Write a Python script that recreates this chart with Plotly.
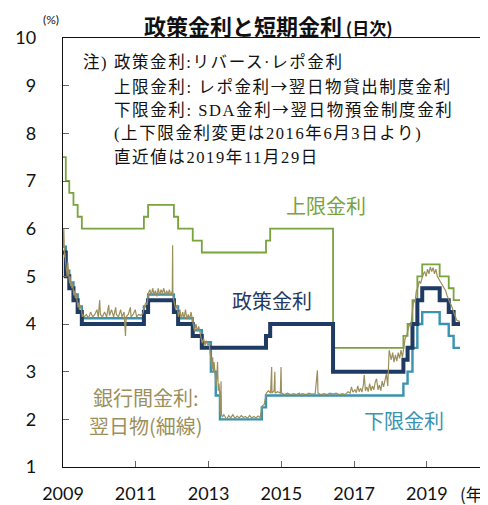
import plotly.graph_objects as go

# ---------------- data ----------------
# Policy rate (reverse repo rate), step changes
policy_dates = ["2009-01-01", "2009-01-29", "2009-03-05", "2009-04-16", "2009-05-28", "2009-07-09",
                "2011-03-24", "2011-05-05", "2012-01-19", "2012-03-01", "2012-07-26", "2012-10-25",
                "2014-07-31", "2014-09-11", "2016-06-03", "2018-05-10", "2018-06-21", "2018-08-09",
                "2018-09-27", "2018-11-15", "2019-05-09", "2019-08-08", "2019-09-26", "2019-11-29"]
policy_vals = [5.5, 5.0, 4.75, 4.5, 4.25, 4.0,
               4.25, 4.5, 4.25, 4.0, 3.75, 3.5,
               3.75, 4.0, 3.0, 3.25, 3.5, 4.0,
               4.5, 4.75, 4.5, 4.25, 4.0, 4.0]

# Upper rate (repo rate -> overnight lending facility)
upper_dates = policy_dates
upper_vals = [7.5, 7.0, 6.75, 6.5, 6.25, 6.0,
              6.25, 6.5, 6.25, 6.0, 5.75, 5.5,
              5.75, 6.0, 3.5, 3.75, 4.0, 4.5,
              5.0, 5.25, 5.0, 4.75, 4.5, 4.5]

# Lower rate (SDA rate -> overnight deposit facility)
lower_dates = ["2009-01-01", "2009-01-29", "2009-03-05", "2009-04-16", "2009-05-28", "2009-07-09",
               "2011-03-24", "2011-05-05", "2012-01-19", "2012-03-01", "2012-07-26", "2012-10-25",
               "2013-01-24", "2013-03-14", "2013-04-25", "2014-06-19", "2014-07-31",
               "2018-05-10", "2018-06-21", "2018-08-09", "2018-09-27", "2018-11-15",
               "2019-05-09", "2019-08-08", "2019-09-26", "2019-11-29"]
lower_vals = [5.62, 5.12, 4.87, 4.62, 4.37, 4.12,
              4.37, 4.62, 4.37, 4.12, 3.87, 3.62,
              3.0, 2.5, 2.0, 2.25, 2.5,
              2.75, 3.0, 3.5, 4.0, 4.25,
              4.0, 3.75, 3.5, 3.5]

# Interbank overnight rate (thin line)
interbank_dates = [
    "2009-01-02", "2009-01-06", "2009-01-09", "2009-01-13", "2009-01-16", "2009-01-21", "2009-01-27",
    "2009-02-02", "2009-02-06", "2009-02-12", "2009-02-18", "2009-02-24", "2009-03-02", "2009-03-09",
    "2009-03-13", "2009-03-19", "2009-03-26", "2009-04-01", "2009-04-08", "2009-04-14", "2009-04-20",
    "2009-04-27", "2009-05-04", "2009-05-11", "2009-05-18", "2009-05-25", "2009-06-01", "2009-06-08",
    "2009-06-15", "2009-06-22", "2009-06-29", "2009-07-06", "2009-07-13", "2009-07-20",
    "2009-08-03", "2009-08-24", "2009-09-14", "2009-10-05", "2009-10-26", "2009-11-16", "2009-12-07",
    "2009-12-21", "2010-01-04", "2010-01-11", "2010-02-01", "2010-02-22", "2010-03-15", "2010-04-05",
    "2010-04-12", "2010-05-03", "2010-05-24", "2010-06-14", "2010-06-21", "2010-07-12", "2010-08-02",
    "2010-08-16", "2010-09-06", "2010-09-20", "2010-09-27", "2010-10-18", "2010-11-08", "2010-11-15",
    "2010-12-06", "2010-12-27", "2011-01-10", "2011-01-31", "2011-02-21", "2011-03-14",
    "2011-03-28", "2011-04-11", "2011-04-25", "2011-05-09", "2011-05-23", "2011-06-06", "2011-06-20",
    "2011-07-04", "2011-07-18", "2011-08-01", "2011-08-15", "2011-08-29", "2011-09-12", "2011-09-26",
    "2011-10-10", "2011-10-24", "2011-11-07", "2011-11-21", "2011-12-05", "2011-12-19", "2012-01-03",
    "2012-01-06", "2012-01-09", "2012-01-23", "2012-02-06", "2012-02-20", "2012-03-05", "2012-03-19",
    "2012-04-02", "2012-04-16", "2012-04-30", "2012-05-14", "2012-05-28", "2012-06-11", "2012-06-25",
    "2012-07-09", "2012-07-30", "2012-08-13", "2012-08-27", "2012-09-10", "2012-09-24", "2012-10-08",
    "2012-10-29", "2012-11-12", "2012-11-26", "2012-12-10", "2012-12-24", "2013-01-07", "2013-01-28",
    "2013-02-04", "2013-02-11", "2013-02-18", "2013-02-25", "2013-03-04", "2013-03-18", "2013-03-25",
    "2013-04-01", "2013-04-08", "2013-04-15", "2013-04-22", "2013-04-29", "2013-05-06", "2013-05-10",
    "2013-05-20", "2013-06-03", "2013-06-17", "2013-07-01", "2013-07-22", "2013-08-12", "2013-09-02",
    "2013-09-23", "2013-10-14", "2013-11-04", "2013-11-25", "2013-12-16", "2014-01-06", "2014-01-27",
    "2014-02-17", "2014-03-10", "2014-03-31", "2014-04-21", "2014-05-12", "2014-06-02", "2014-06-23",
    "2014-07-14", "2014-08-04", "2014-08-25", "2014-09-15", "2014-09-26", "2014-09-29", "2014-10-20",
    "2014-10-28", "2014-10-31", "2014-11-24", "2014-12-22", "2014-12-29", "2015-01-02", "2015-02-02",
    "2015-03-02", "2015-04-06", "2015-05-04", "2015-06-01", "2015-06-30", "2015-07-06", "2015-08-03",
    "2015-09-07", "2015-10-05", "2015-11-02", "2015-12-07", "2015-12-29", "2016-01-04", "2016-02-01",
    "2016-03-07", "2016-04-04", "2016-05-02", "2016-06-06", "2016-07-04", "2016-08-01", "2016-09-05",
    "2016-10-03", "2016-10-31", "2016-11-21", "2016-12-05", "2016-12-19", "2017-01-09", "2017-01-23",
    "2017-02-06", "2017-02-20", "2017-03-06", "2017-03-20", "2017-04-03", "2017-04-12", "2017-04-24",
    "2017-05-08", "2017-05-22", "2017-06-05", "2017-06-19", "2017-07-03", "2017-07-17", "2017-07-31",
    "2017-08-14", "2017-08-28", "2017-09-11", "2017-09-25", "2017-10-09", "2017-10-23", "2017-11-06",
    "2017-11-20", "2017-12-04", "2017-12-11", "2017-12-18", "2018-01-08", "2018-01-22", "2018-02-05",
    "2018-02-19", "2018-03-05", "2018-03-19", "2018-04-02", "2018-04-16", "2018-04-30", "2018-05-14",
    "2018-05-28", "2018-06-11", "2018-06-25", "2018-07-09", "2018-07-23", "2018-08-06", "2018-08-20",
    "2018-09-03", "2018-09-17", "2018-10-01", "2018-10-15", "2018-10-29", "2018-11-12", "2018-11-26",
    "2018-12-10", "2018-12-24", "2019-01-07", "2019-01-21", "2019-02-04", "2019-02-18", "2019-03-04",
    "2019-03-18", "2019-04-01", "2019-04-15", "2019-04-29", "2019-05-13", "2019-05-27", "2019-06-10",
    "2019-06-24", "2019-07-08", "2019-07-22", "2019-08-05", "2019-08-19", "2019-09-02", "2019-09-16",
    "2019-09-30", "2019-10-14", "2019-10-28", "2019-11-11", "2019-11-29"]
interbank_vals = [
    5.6, 5.9, 6.0, 5.7, 5.4, 5.5, 5.3,
    5.1, 5.2, 5.0, 5.3, 5.05, 4.95, 4.85,
    5.0, 4.8, 4.9, 4.75, 4.85, 4.7, 4.6,
    4.7, 4.55, 4.65, 4.55, 4.5, 4.35, 4.45,
    4.3, 4.4, 4.35, 4.3, 4.15, 4.2,
    4.15, 4.2, 4.12, 4.25, 4.15, 4.2, 4.3,
    4.15, 4.5, 4.2, 4.15, 4.25, 4.15, 4.4,
    4.18, 4.3, 4.15, 4.35, 4.2, 4.15, 4.3,
    4.15, 4.25, 3.75, 4.15, 4.2, 4.35, 4.15,
    4.2, 4.3, 4.15, 4.2, 4.18, 4.22,
    4.35, 4.45, 4.4, 4.65, 4.72, 4.6, 4.75,
    4.62, 4.7, 4.58, 4.75, 4.6, 4.72, 4.65,
    4.75, 4.6, 4.7, 4.62, 4.72, 4.6, 4.7,
    5.65, 4.6, 4.45, 4.3, 4.4, 4.15, 4.3,
    4.1, 4.25, 4.12, 4.3, 4.1, 4.2, 4.1,
    4.25, 3.95, 3.85, 4.0, 3.85, 3.95, 3.82,
    3.6, 3.7, 3.55, 3.65, 3.55, 3.6, 3.15,
    3.05, 3.3, 3.0, 3.2, 3.05, 2.7, 2.9,
    3.2, 2.6, 2.75, 2.55, 2.1, 2.8, 2.1,
    2.05, 2.1, 2.05, 2.0, 2.08, 2.03, 2.1,
    2.02, 2.07, 2.03, 2.08, 2.04, 2.06, 2.02,
    2.08, 2.03, 2.06, 2.03, 2.07, 2.04, 2.28,
    2.32, 2.55, 2.6, 2.55, 3.1, 2.55, 2.6,
    3.0, 2.55, 2.58, 2.55, 3.1, 2.55, 2.52,
    2.55, 2.52, 2.54, 2.52, 2.55, 2.52, 2.54,
    2.52, 2.55, 2.53, 2.54, 3.03, 2.55, 2.52,
    2.54, 2.52, 2.55, 2.53, 2.55, 2.52, 2.54,
    2.52, 2.58, 2.55, 2.68, 2.57, 2.62, 2.56,
    2.7, 2.58, 2.65, 2.57, 2.72, 2.93, 2.6,
    2.68, 2.58, 2.75, 2.6, 2.7, 2.62, 2.78,
    2.85, 2.62, 2.72, 2.6, 2.8, 2.68, 2.82,
    2.95, 2.7, 3.3, 3.45, 3.25, 3.4, 3.2,
    3.35, 3.22, 3.4, 3.28, 3.45, 3.3, 3.55,
    3.7, 3.75, 3.85, 4.0, 3.95, 4.25, 4.5,
    4.45, 4.7, 4.75, 4.9, 4.85, 4.96, 5.05,
    5.1, 5.0, 5.15, 5.05, 5.2, 5.1, 5.18,
    5.05, 5.15, 5.0, 4.95, 4.9, 4.85, 4.8,
    4.75, 4.7, 4.6, 4.5, 4.45, 4.4, 4.3,
    4.2, 4.15, 4.08, 4.06, 4.05]

tick_years = ["2009", "2011", "2013", "2015", "2017", "2019"]
y_ticks = [1, 2, 3, 4, 5, 6, 7, 8, 9, 10]

note_lines = ["注) 政策金利:リバース·レポ金利",
              "上限金利: レポ金利→翌日物貸出制度金利",
              "下限金利: SDA金利→翌日物預金制度金利",
              "(上下限金利変更は2016年6月3日より)",
              "直近値は2019年11月29日"]

# ---------------- styling ----------------
# The page body has an 8px margin, so all page-pixel positions are shifted by -8.
OFF = 8
W, H = 488, 505
L, T = 63 - OFF, 38 - OFF
R = OFF
B = H - (467 - OFF)
PW, PH = W - L - R, H - T - B

def px(x, y):
    return (x - OFF - L) / PW, (H - B - (y - OFF)) / PH

C_UP = "#79A33D"
C_POL = "#1F3A63"
C_LOW = "#3A93AF"
C_IB = "#9C8F5B"
JP = "Noto Sans CJK JP"
NUM = "Lato, " + JP
NOTE = "Liberation Serif, " + JP

fig = go.Figure()
fig.add_trace(go.Scatter(x=upper_dates, y=upper_vals, mode="lines", line=dict(color=C_UP, width=1.8, shape="hv"),
                         hoverinfo="skip"))
fig.add_trace(go.Scatter(x=lower_dates, y=lower_vals, mode="lines", line=dict(color=C_LOW, width=2.4, shape="hv"),
                         hoverinfo="skip"))
fig.add_trace(go.Scatter(x=policy_dates, y=policy_vals, mode="lines", line=dict(color=C_POL, width=4, shape="hv"),
                         hoverinfo="skip"))
fig.add_trace(go.Scatter(x=interbank_dates, y=interbank_vals, mode="lines", line=dict(color=C_IB, width=1.2),
                         hoverinfo="skip"))

ann = []
def add_text(x, y, text, size, color, family=JP, xanchor="center", yanchor="middle"):
    ax, ay = px(x, y)
    ann.append(dict(x=ax, y=ay, xref="paper", yref="paper", text=text, showarrow=False, borderpad=0,
                    font=dict(size=size, color=color, family=family), xanchor=xanchor, yanchor=yanchor))

add_text(268, 8, "<b>政策金利と短期金利</b><span style='font-size:17px'><b> (日次)</b></span>", 22, "#111111",
         yanchor="top")
add_text(51, 19, "(%)", 12, "#111111", family=NUM)
add_text(474, 493, "(年)", 17, "#111111")
note_y = [62, 86, 109, 133, 157]
ARW = "<span style='font-family:Noto Sans CJK JP'>→</span>"
for i, (line, yy) in enumerate(zip(note_lines, note_y)):
    txt = "<span style='letter-spacing:1.6px'>" + line.replace("→", ARW) + "</span>"
    add_text(82 if i == 0 else 113, yy, txt, 16.5, "#111111", family=NOTE, xanchor="left")
add_text(326, 205, "上限金利", 20, C_UP)
add_text(272, 300, "政策金利", 20, C_POL)
add_text(404, 420, "下限金利", 20, C_LOW)
add_text(146, 397, "銀行間金利:", 20, C_IB, xanchor="center")
add_text(146, 425, "翌日物(細線)", 20, C_IB, xanchor="center")

fig.update_layout(
    width=W, height=H, margin=dict(l=L, r=R, t=T, b=B, autoexpand=False),
    paper_bgcolor="white", plot_bgcolor="white", showlegend=False,
    annotations=ann,
    xaxis=dict(type="date", range=["2009-01-01", "2020-09-05"], automargin=False,
               tickvals=[y + "-01-01" for y in tick_years], ticktext=tick_years,
               ticks="inside", ticklen=6, tickcolor="#666", showgrid=False, zeroline=False,
               showline=True, linecolor="#111", linewidth=1.3, mirror=True,
               tickfont=dict(family=NUM, size=18, color="#111"), ticklabelstandoff=10),
    yaxis=dict(range=[1, 10], tickvals=y_ticks, ticks="inside", ticklen=6, tickcolor="#666", automargin=False,
               showgrid=False, zeroline=False, showline=True, linecolor="#111", linewidth=1.3,
               tickfont=dict(family=NUM, size=18, color="#111"), ticklabelstandoff=22),
)

fig.write_html("out.html")
